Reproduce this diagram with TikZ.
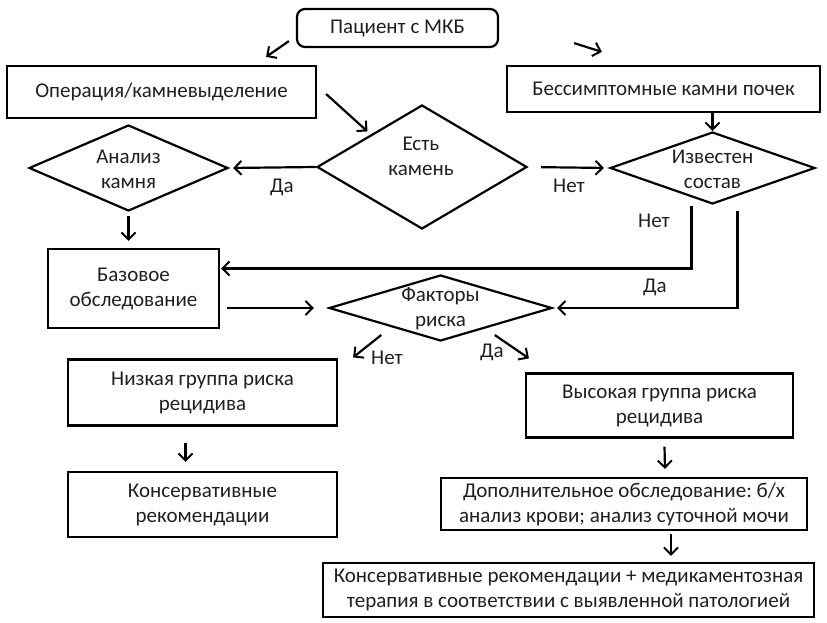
\documentclass[tikz,border=0pt]{standalone}
\usepackage{fontspec}
\setmainfont{Carlito}
\frenchspacing
\usetikzlibrary{shapes.geometric,arrows.meta}

\begin{document}
\begin{tikzpicture}[x=1pt,y=-1pt,>={Straight Barb[length=7pt,width=14pt,line width=2pt]},
    line width=2.2pt,
    every node/.style={font=\fontsize{21}{25}\selectfont, text=black!88},
    box/.style={draw, rectangle, inner sep=0pt, align=center},
    dia/.style={draw, diamond, inner sep=0pt},
    txt/.style={align=center, inner sep=0pt},
    arr/.style={->}]
        \useasboundingbox (0,0) rectangle (827,623);

        \node[box, rounded corners=8pt, minimum width=201pt, minimum height=38pt] (pat) at (397.5,28) {Пациент с МКБ};
        \node[box, minimum width=309pt, minimum height=52pt] (op) at (161.5,92) {Операция/камневыделение};
        \node[box, minimum width=313pt, minimum height=46pt] (asy) at (663.5,89) {Бессимптомные камни почек};

        \node[dia, minimum width=210pt, minimum height=124pt] (stone) at (422,167) {};
        \node[txt] (stoneT) at (421,156) {Есть\\камень};
        \node[dia, minimum width=199pt, minimum height=86pt] (an) at (128.5,168) {};
        \node[txt] (anT) at (128.5,169.5) {Анализ\\камня};
        \node[dia, minimum width=205pt, minimum height=72pt] (known) at (712.5,168) {};
        \node[txt] (knownT) at (712.5,169.5) {Известен\\состав};

        \node[box, minimum width=171pt, minimum height=79pt] (base) at (133.5,288.5) {Базовое\\обследование};
        \node[dia, minimum width=223pt, minimum height=66pt] (risk) at (440.5,308) {};
        \node[txt] (riskT) at (440.5,309) {Факторы\\риска};

        \node[box, minimum width=269pt, minimum height=66pt] (low) at (202.5,392.5) {Низкая группа риска\\рецидива};
        \node[box, minimum width=267pt, minimum height=64pt] (high) at (659.5,405.5) {Высокая группа риска\\рецидива};
        \node[box, minimum width=269pt, minimum height=65pt] (cons) at (202.5,504.5) {Консервативные\\рекомендации};
        \node[box, minimum width=366pt, minimum height=52pt] (add) at (624,504) {Дополнительное обследование: б/х\\анализ крови; анализ суточной мочи};
        \node[box, minimum width=491pt, minimum height=54pt] (fin) at (568.5,590) {Консервативные рекомендации + медикаментозная\\терапия в соответствии с выявленной патологией};

        \node (l1) at (282,187) {Да};
        \node (l2) at (569,186) {Нет};
        \node (l3) at (654,221) {Нет};
        \node (l4) at (655,287) {Да};
        \node (l5) at (387,358) {Нет};
        \node (l6) at (492,352) {Да};

        \draw[arr] ([shift={(-7,-7)}]pat.south west) -- ([shift={(-51,-8)}]op.north east);
        \draw[arr] ([shift={(75,-5)}]pat.south east) -- ([shift={(96,-13)}]asy.north west);
        \draw[arr] ([shift={(9,2)}]op.east) -- ([shift={(-1.5,-4)}]stone.north west);
        \draw[arr, shorten >=4pt] (stone.west) -- (an.east);
        \draw[arr, shorten <=13pt, shorten >=5pt] (stone.east) -- (known.west);
        \draw[arr] (known.north |- asy.south) -- (known.north);
        \draw[arr, shorten <=4pt, shorten >=7pt] (an.south) -- (an.south |- base.north);
        \draw[arr, shorten >=1pt] ([shift={(-21,1)}]known.south) |- ([shift={(0,-20)}]base.east);
        \draw[arr, shorten >=4pt] ([shift={(25,6)}]known.south) |- (risk.east);
        \draw[arr, shorten <=7pt, shorten >=14pt] (risk.west -| base.east) -- (risk.west);
        \draw[arr] ([shift={(-3,10)}]risk.south west) -- ([shift={(15,-1)}]low.north east);
        \draw[arr] ([shift={(-2,10)}]risk.south east) -- ([shift={(4,-14)}]high.north west);
        \draw[arr, shorten <=16pt, shorten >=9pt] ([shift={(-17,0)}]low.south) -- ([shift={(-17,0)}]cons.north);
        \draw[arr] ([shift={(5,8)}]high.south) -- ([shift={(41,-8)}]add.north);
        \draw[arr] ([shift={(47,3)}]add.south) -- ([shift={(102.5,-6)}]fin.north);
\end{tikzpicture}
\end{document}
